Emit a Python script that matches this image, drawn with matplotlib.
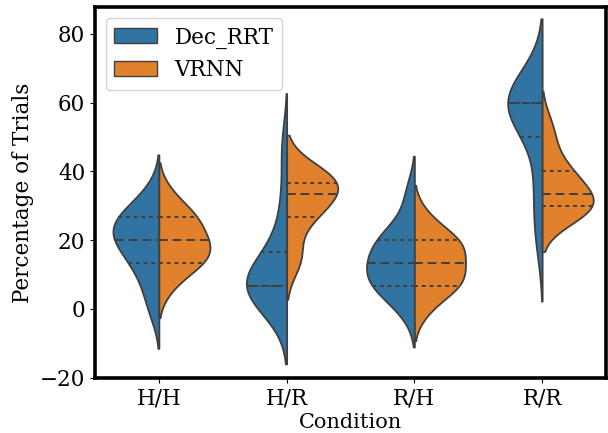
import numpy as np
import pandas as pd
import matplotlib
matplotlib.use("Agg")
import matplotlib.pyplot as plt
import seaborn as sns
from matplotlib.patches import Patch

plt.rcParams['font.family'] = ['DejaVu Serif']

conditions = ["H/H", "H/R", "R/H", "R/R"]
models = ["Dec_RRT", "VRNN"]

# Percentage of trials per participant (read/estimated from the reference)
dec_hh = [0, 6.67, 13.33, 13.33, 20, 20, 20, 23.33, 26.67, 26.67, 26.67, 33.33]
vrnn_hh = [6.67, 13.33, 13.33, 13.33, 16.67, 20, 20, 20, 26.67, 26.67, 26.67, 33.33]
dec_hr = [0, 6.67, 6.67, 6.67, 6.67, 6.67, 6.67, 6.67, 16.67, 16.67, 30, 46.67]
vrnn_hr = [13.33, 16.67, 26.67, 26.67, 30, 33.33, 33.33, 36.67, 36.67, 36.67, 40, 40]
dec_rh = [0, 6.67, 6.67, 6.67, 10, 13.33, 13.33, 16.67, 20, 20, 23.33, 33.33]
vrnn_rh = [0, 6.67, 6.67, 6.67, 10, 13.33, 13.33, 16.67, 20, 20, 20, 26.67]
dec_rr = [20, 30, 40, 53.33, 56.67, 60, 60, 60, 60, 60, 63.33, 66.67]
vrnn_rr = [26.67, 26.67, 30, 30, 30, 33.33, 33.33, 36.67, 40, 40, 46.67, 53.33]

series = {
    ("H/H", "Dec_RRT"): dec_hh, ("H/H", "VRNN"): vrnn_hh,
    ("H/R", "Dec_RRT"): dec_hr, ("H/R", "VRNN"): vrnn_hr,
    ("R/H", "Dec_RRT"): dec_rh, ("R/H", "VRNN"): vrnn_rh,
    ("R/R", "Dec_RRT"): dec_rr, ("R/R", "VRNN"): vrnn_rr,
}

rows = []
for (c, m), vals in series.items():
    for v in vals:
        rows.append({"Condition": c, "Model": m, "Percentage": v})
df = pd.DataFrame(rows)

fig = plt.figure(figsize=(6.08, 4.33), dpi=100)
ax = fig.add_axes([95/608, 1-378/433, (606-95)/608, (378-7)/433])

edge = "#3f3f3f"
for c in conditions:
    sub = df[df["Condition"] == c]
    sns.violinplot(data=sub, x="Condition", y="Percentage", hue="Model",
                   order=conditions, hue_order=models, split=True,
                   inner="quart", common_norm=True, density_norm="area",
                   palette="tab10", saturation=0.75, cut=2,
                   linewidth=1.3, linecolor=edge,
                   legend=False, ax=ax)

# style quartile lines: median long dashes, quartiles short dashes
for i, ln in enumerate(ax.lines):
    ln.set_color(edge)
    ln.set_linewidth(1.4)
    if i % 3 == 1:
        ln.set_dashes([4.5, 2.5])
    else:
        ln.set_dashes([2.0, 2.0])

ax.set_xlim(-0.5, 3.5)
ax.set_ylim(-20.1, 87.8)
ax.set_xlabel("Condition", fontsize=15, labelpad=2)
ax.set_ylabel("Percentage of Trials", fontsize=15.5)
ax.tick_params(axis="both", labelsize=15.5, length=3.5, width=0.8)
for s in ax.spines.values():
    s.set_linewidth(2.6)
    s.set_color("black")
    s.set_visible(True)

cols = [sns.desaturate(c, 0.75) for c in sns.color_palette("tab10", 2)]
handles = [Patch(facecolor=cols[i], edgecolor=edge, linewidth=1, label=models[i])
           for i in range(2)]
ax.legend(handles=handles, loc="upper left", fontsize=15.5)

fig.savefig("out.png", dpi=100)
